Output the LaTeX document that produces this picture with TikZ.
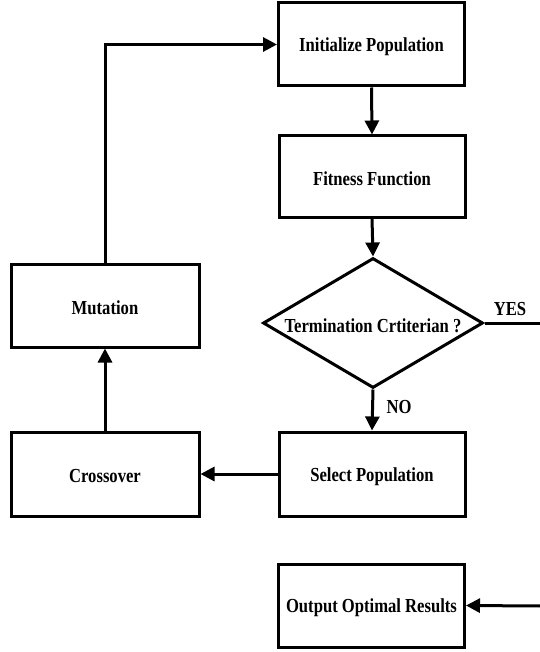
\documentclass[tikz,border=0pt]{standalone}
\usepackage{fontspec}
\setmainfont{Liberation Serif}
\usetikzlibrary{arrows.meta,shapes.geometric}
\newcommand{\lbl}[1]{\raisebox{-2.5pt}[\height][\depth]{\scalebox{1.02}[1.22]{\bfseries #1}}}
\tikzset{
  box/.style={draw, line width=3pt, rectangle, minimum width=#1, font=\fontsize{16.3}{18}\selectfont, inner sep=0pt},
  box/.default=186pt,
  conn/.style={line width=3pt, -{Triangle[length=14pt,width=14pt]}},
  plain/.style={line width=3pt},
  tag/.style={font=\fontsize{16.3}{18}\selectfont, inner sep=0pt}
}
\begin{document}
\begin{tikzpicture}[x=1pt,y=-1pt]
\useasboundingbox (0,0) rectangle (539,652);
\node[box, minimum height=83pt] (init) at (371.5,44.5) {\lbl{Initialize Population}};
\node[box, minimum height=81pt] (fit) at (372,176.5) {\lbl{Fitness Function}};
\node[draw, line width=3pt, diamond, minimum width=220pt, minimum height=130pt, inner sep=0pt, aspect=1.7] (term) at (373,323) {};
\node[tag] at (373,323) {\lbl{Termination Crtiterian ?}};
\node[box, minimum height=84pt] (sel) at (372,474) {\lbl{Select Population}};
\node[box=188pt, minimum height=84pt] (cross) at (105,474) {\lbl{Crossover}};
\node[box=188pt, minimum height=83pt] (mut) at (105,305.5) {\lbl{Mutation}};
\node[box, minimum height=83pt] (out) at (371.5,605.5) {\lbl{Output Optimal Results}};
\node[tag] (yes) at (510,307) {\lbl{YES}};
\node[tag] (no) at (399,405) {\lbl{NO}};
\coordinate (yesend) at (541,323);
\coordinate (outstart) at (541,606);
\draw[conn] (init.south) -- (fit.north);
\draw[conn] (fit.south) -- (term.north);
\draw[conn] (term.south) -- (sel.north);
\draw[conn] (sel.west) -- (cross.east);
\draw[conn] (cross.north) -- (mut.south);
\draw[conn] (mut.north) |- (init.west);
\draw[plain] (term.east) -- (yesend);
\draw[conn] (outstart) -- (out.east);
\end{tikzpicture}
\end{document}
